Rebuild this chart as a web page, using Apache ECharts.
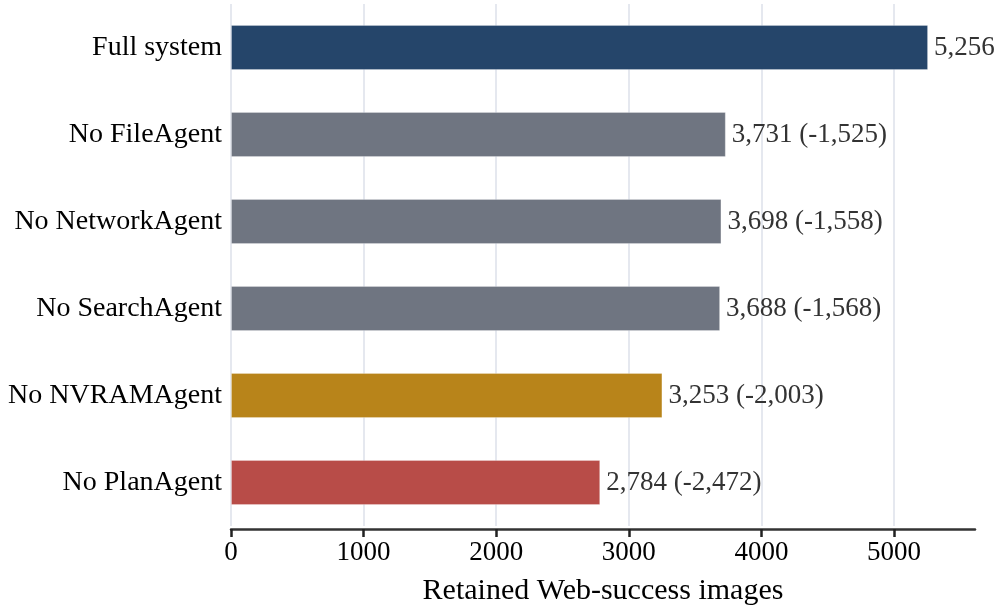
<!DOCTYPE html>
<html>
<head>
<meta charset="utf-8">
<style>
  html, body { margin: 0; padding: 0; background: #fff; }
  #chart { width: 997px; height: 606px; }
</style>
<script src="https://cdn.jsdelivr.net/npm/echarts@6/dist/echarts.min.js"></script>
</head>
<body>
<div id="chart"></div>
<script>
// 消融实验：各配置保留的 Web-success 镜像数
const categories = ['Full system', 'No FileAgent', 'No NetworkAgent', 'No SearchAgent', 'No NVRAMAgent', 'No PlanAgent'];
const values = [5256, 3731, 3698, 3688, 3253, 2784];
const barColors = ['#25456a', '#6f7581', '#6f7581', '#6f7581', '#b8841a', '#b84c48'];
const xTicks = [0, 1000, 2000, 3000, 4000, 5000];

const chart = echarts.init(document.getElementById('chart'));
const serif = '"Liberation Serif", "DejaVu Serif", serif';
const fullValue = values[0];

// 标签：数值 + 与完整系统的差值
function fmt(n) { return n.toLocaleString('en-US'); }
function labelText(i) {
  if (i === 0) return fmt(values[i]);
  return fmt(values[i]) + ' (' + fmt(values[i] - fullValue) + ')';
}

const option = {
  animation: false,
  grid: { left: 231, right: 22, top: 4, bottom: 80, containLabel: false, outerBoundsMode: 'none' },
  xAxis: {
    type: 'value',
    min: 0,
    max: 5610,
    interval: 1000,
    offset: 3,
    name: 'Retained Web-success images',
    nameLocation: 'middle',
    nameGap: 47,
    nameTextStyle: { fontFamily: serif, fontSize: 30, color: '#000' },
    axisLine: { show: true, onZero: false, lineStyle: { color: '#333', width: 2.5 } },
    axisTick: { show: true, length: 8, customValues: xTicks, lineStyle: { color: '#222', width: 2.5 } },
    axisLabel: {
      fontFamily: serif, fontSize: 27, color: '#000', margin: 10,
      customValues: xTicks,
      formatter: v => String(v)
    },
    splitLine: { show: true, lineStyle: { color: '#dde1ea', width: 1.5 } }
  },
  yAxis: {
    type: 'category',
    inverse: true,
    data: categories,
    axisLine: { show: false },
    axisTick: { show: false },
    axisLabel: { fontFamily: serif, fontSize: 28, color: '#000', margin: 9 }
  },
  series: [{
    type: 'bar',
    barWidth: 45,
    data: values.map((v, i) => ({
      value: v,
      itemStyle: { color: barColors[i], borderColor: 'rgba(255,255,255,0.25)', borderWidth: 1 }
    })),
    label: {
      show: true,
      position: 'right',
      distance: 6,
      fontFamily: serif,
      fontSize: 27,
      color: '#333',
      formatter: p => labelText(p.dataIndex)
    }
  }]
};
chart.setOption(option);

window.addEventListener('resize', () => chart.resize());
</script>
</body>
</html>
